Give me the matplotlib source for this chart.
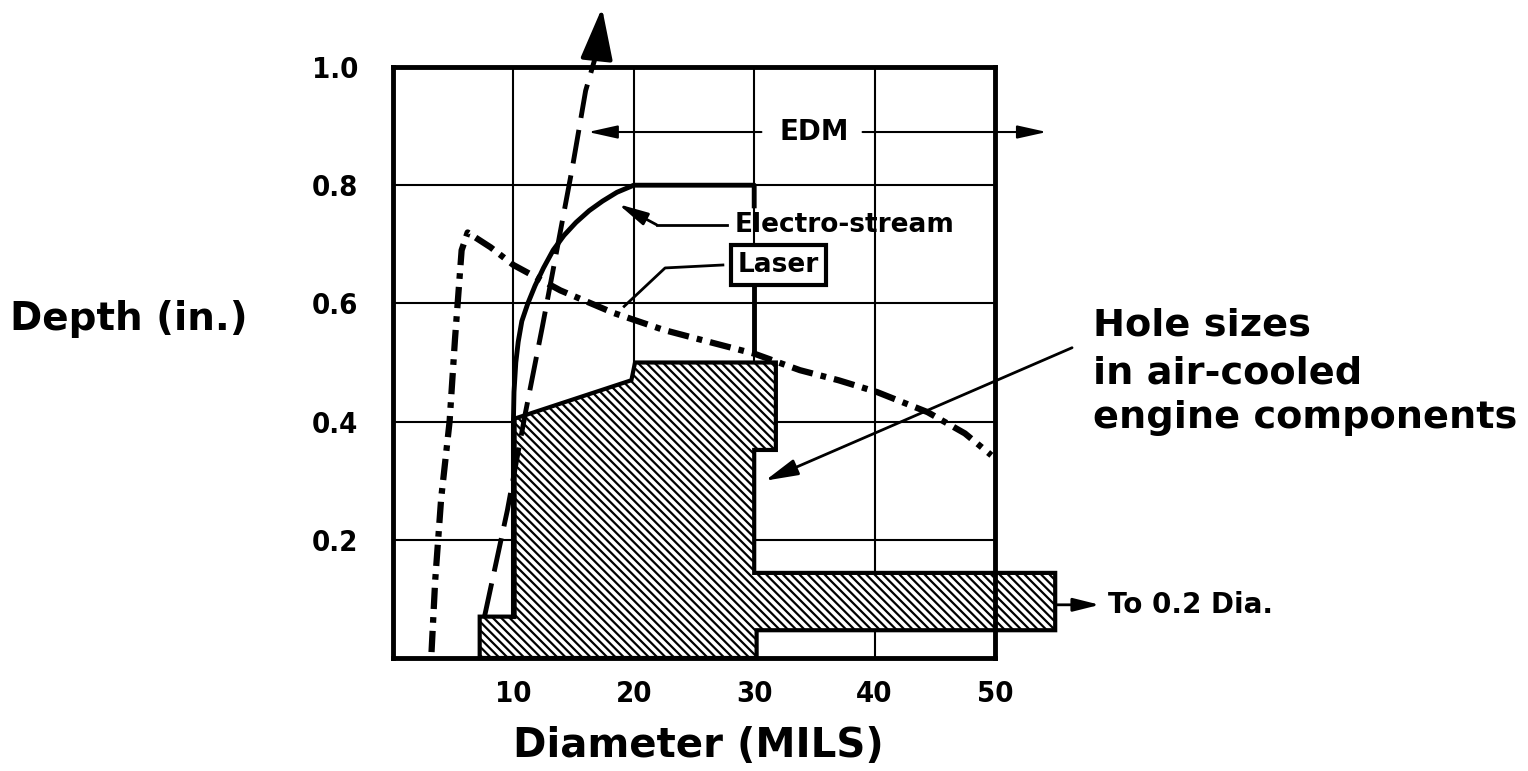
import numpy as np
import matplotlib
matplotlib.use("Agg")
import matplotlib.pyplot as plt
from matplotlib.patches import Polygon

# hole sizes in air-cooled engine components (diameter mils, depth in.)
hole_x = [7.2, 7.2, 10.1, 10.1, 19.8, 20.1, 31.8, 31.8, 30.0, 30.0, 55.0, 55.0, 30.2, 30.2]
hole_y = [0.0, 0.07, 0.07, 0.405, 0.47, 0.50, 0.50, 0.352, 0.352, 0.144, 0.144, 0.047, 0.047, 0.0]

# electro-stream envelope
es_x = [10.0, 10.0, 10.05, 10.2, 10.4, 10.7, 11.2, 11.8, 12.5, 13.3, 14.2, 15.2, 16.3, 17.4, 18.6, 20.0, 30.0, 30.0]
es_y = [0.07, 0.40, 0.45, 0.50, 0.535, 0.57, 0.60, 0.63, 0.66, 0.69, 0.715, 0.737, 0.757, 0.773, 0.788, 0.80, 0.80, 0.765]
es_drop_x = [30.0, 30.0]
es_drop_y = [0.626, 0.52]

# laser limit (dashed, runs off the top)
las_x = [7.6, 9.5, 11.0, 12.4, 13.7, 14.9, 16.0, 17.0]
las_y = [0.07, 0.25, 0.415, 0.56, 0.70, 0.83, 0.96, 1.03]
las_tip = (17.36, 1.10)

# dash-dot curve
dd_x = [3.2, 3.5, 4.0, 4.7, 5.15, 5.7, 6.2, 8.1, 10.0, 13.9, 18.3, 22.5, 26.6, 30.0, 33.8, 37.0, 40.2, 44.4, 47.5, 49.7]
dd_y = [0.01, 0.13, 0.27, 0.40, 0.54, 0.69, 0.72, 0.695, 0.665, 0.622, 0.584, 0.555, 0.533, 0.515, 0.487, 0.47, 0.45, 0.416, 0.38, 0.343]

x_ticks = [10, 20, 30, 40, 50]
x_labels = ["10", "20", "30", "40", "50"]
y_ticks = [0.2, 0.4, 0.6, 0.8, 1.0]
y_labels = ["0.2", "0.4", "0.6", "0.8", "1.0"]

plt.rcParams["font.family"] = "DejaVu Sans"
plt.rcParams["font.weight"] = "bold"
plt.rcParams["hatch.linewidth"] = 1.6

W, H = 1528, 771
fig = plt.figure(figsize=(W / 100, H / 100), dpi=100)
ax = fig.add_axes([393 / W, 1 - 658 / H, (995 - 393) / W, (658 - 67) / H])
ax.set_xlim(0, 50)
ax.set_ylim(0, 1.0)
ax.set_xticks(x_ticks)
ax.set_xticklabels(x_labels, fontsize=21, fontstretch="condensed")
ax.set_yticks(y_ticks)
ax.set_yticklabels(y_labels, fontsize=21, fontstretch="condensed")
ax.tick_params(axis="both", length=0)
ax.tick_params(axis="x", pad=16)
ax.tick_params(axis="y", pad=25)
ax.grid(True, color="black", lw=1.5)
ax.set_axisbelow(True)
for s in ax.spines.values():
    s.set_linewidth(3.5)

ax.add_patch(Polygon(np.column_stack([hole_x, hole_y]), closed=True, facecolor="white",
                     edgecolor="black", hatch="\\\\\\\\", lw=3, clip_on=False, zorder=2))

ax.plot(es_x, es_y, color="black", lw=3.5, zorder=4)
ax.plot(es_drop_x, es_drop_y, color="black", lw=3.5, zorder=4)
ax.plot(las_x, las_y, color="black", lw=3.5, dashes=(7, 2.5), clip_on=False, zorder=4)
ax.annotate("", xy=las_tip, xytext=(las_x[-1], las_y[-1]), annotation_clip=False,
            arrowprops=dict(arrowstyle="-|>,head_length=1.6,head_width=0.5", mutation_scale=20,
                            color="black", lw=3, shrinkA=0, shrinkB=0))
ax.plot(dd_x, dd_y, color="black", lw=4.5, dashes=(3.4, 1.3, 0.9, 1.3), zorder=4)

# EDM range
ax.text(35.0, 0.89, "EDM", ha="center", va="center", fontsize=20)
ax.annotate("", xy=(16.2, 0.89), xytext=(30.6, 0.89),
            arrowprops=dict(arrowstyle="-|>,head_length=0.9,head_width=0.2", mutation_scale=20,
                            color="black", lw=1.5, shrinkA=0, shrinkB=0))
ax.annotate("", xy=(54.3, 0.89), xytext=(39.0, 0.89), annotation_clip=False,
            arrowprops=dict(arrowstyle="-|>,head_length=0.9,head_width=0.2", mutation_scale=20,
                            color="black", lw=1.5, shrinkA=0, shrinkB=0))

# labels with leaders
ax.text(28.4, 0.733, "Electro-stream", ha="left", va="center", fontsize=19)
ax.plot([27.7, 21.9], [0.733, 0.733], color="black", lw=2)
ax.annotate("", xy=(18.7, 0.768), xytext=(21.9, 0.733),
            arrowprops=dict(arrowstyle="-|>,head_length=0.9,head_width=0.2", mutation_scale=20,
                            color="black", lw=2, shrinkA=0, shrinkB=0))
ax.text(32.0, 0.665, "Laser", ha="center", va="center", fontsize=19, zorder=5,
        bbox=dict(boxstyle="square,pad=0.25", facecolor="white", edgecolor="black", lw=3))
ax.plot([27.4, 22.6, 19.2], [0.665, 0.66, 0.595], color="black", lw=2, zorder=4)

ax.annotate("", xy=(30.9, 0.30), xytext=(56.4, 0.525), annotation_clip=False,
            arrowprops=dict(arrowstyle="-|>,head_length=1.0,head_width=0.25", mutation_scale=20,
                            color="black", lw=2, shrinkA=0, shrinkB=0))
ax.annotate("", xy=(58.7, 0.09), xytext=(55.0, 0.09), annotation_clip=False,
            arrowprops=dict(arrowstyle="-|>,head_length=0.8,head_width=0.2", mutation_scale=20,
                            color="black", lw=2, shrinkA=0, shrinkB=0))
ax.text(59.4, 0.09, "To 0.2 Dia.", ha="left", va="center", fontsize=20, clip_on=False)

fig.text(1093 / W, 1 - 335 / H, "Hole sizes", fontsize=27.5, ha="left", va="baseline")
fig.text(1093 / W, 1 - 383 / H, "in air-cooled", fontsize=27.5, ha="left", va="baseline")
fig.text(1093 / W, 1 - 428 / H, "engine components", fontsize=27.5, ha="left", va="baseline")

fig.text(10 / W, 1 - 330 / H, "Depth (in.)", fontsize=28, ha="left", va="baseline")
fig.text(698 / W, 1 - 757 / H, "Diameter (MILS)", fontsize=29, ha="center", va="baseline")

fig.savefig("out.png", dpi=100)
